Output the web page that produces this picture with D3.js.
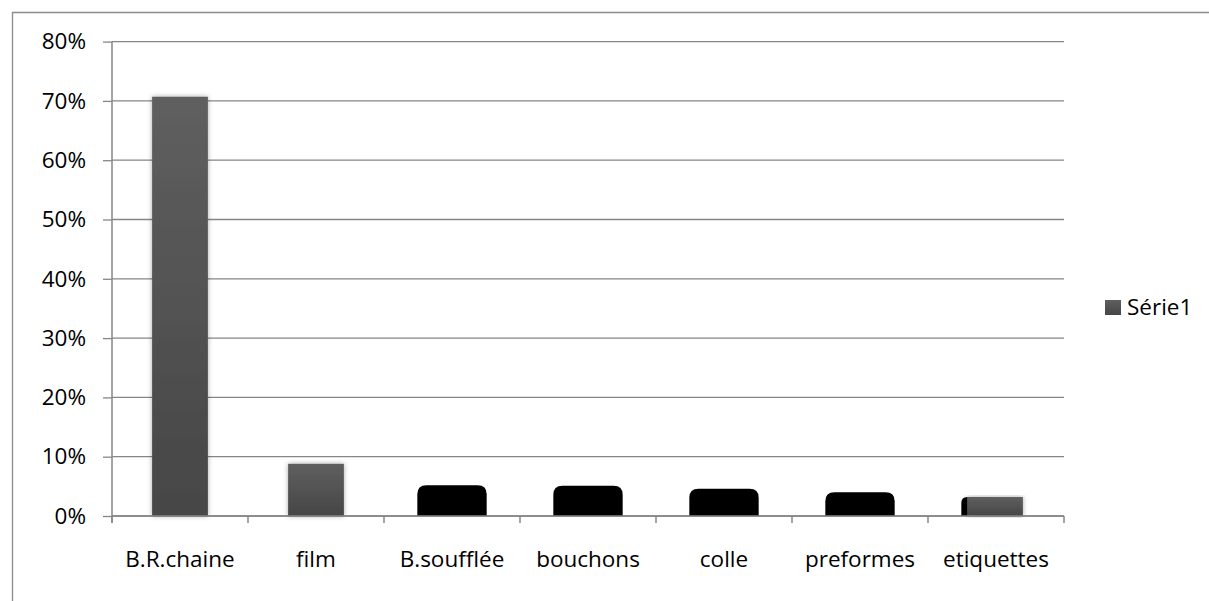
<!DOCTYPE html>
<html><head><meta charset="utf-8">
<script src="https://cdn.jsdelivr.net/npm/d3@7"></script>
<style>html,body{margin:0;padding:0;background:#fff;}svg{display:block;}</style>
</head><body>
<svg id="c" width="1209" height="601"></svg>
<script>
const categories = ["B.R.chaine","film","B.soufflée","bouchons","colle","preformes","etiquettes"];
const values = [0.707, 0.088, 0.052, 0.051, 0.046, 0.040, 0.032];
const overdrawn = ["B.soufflée","bouchons","colle","preformes","etiquettes"];
const yTicks = [0,0.1,0.2,0.3,0.4,0.5,0.6,0.7,0.8];
const seriesName = "Série1";

const svg = d3.select("#c");
const font = "'Open Sans', 'Liberation Sans', Arial, sans-serif";
const fs = 22.5;
const L = 112, R = 1064, T = 41.6, B = 516;
const x = d3.scaleBand().domain(categories).range([L, R]);
const y = d3.scaleLinear().domain([0, 0.8]).range([B, T]);

const defs = svg.append("defs");
const g = defs.append("linearGradient").attr("id","bg").attr("x1",0).attr("y1",0).attr("x2",0).attr("y2",1);
g.append("stop").attr("offset","0%").attr("stop-color","#5f5f5f");
g.append("stop").attr("offset","100%").attr("stop-color","#464646");
const f = defs.append("filter").attr("id","sh").attr("x","-30%").attr("y","-10%").attr("width","160%").attr("height","120%");
f.append("feDropShadow").attr("dx",0).attr("dy",0).attr("stdDeviation",2.5).attr("flood-color","#000").attr("flood-opacity",0.35);

// outer border
svg.append("path").attr("d","M12.5,601 V12.5 H1209").attr("fill","none").attr("stroke","#8a8a8a").attr("stroke-width",1.3);

// gridlines + y axis
const yAxis = d3.axisLeft(y).tickValues(yTicks).tickFormat(d3.format(".0%")).tickSize(9).tickPadding(17);
const ya = svg.append("g").attr("transform",`translate(${L},0)`).call(yAxis);
ya.select(".domain").remove();
ya.selectAll(".tick line").attr("stroke","#868686").attr("stroke-width",1.3);
ya.selectAll(".tick text").attr("font-family",font).attr("font-size",fs).attr("fill","#000");
svg.append("g").selectAll("line").data(yTicks).join("line")
  .attr("x1",L).attr("x2",R).attr("y1",d=>y(d)).attr("y2",d=>y(d))
  .attr("stroke","#868686").attr("stroke-width",1.3);
svg.append("line").attr("x1",L).attr("x2",L).attr("y1",T).attr("y2",B+7).attr("stroke","#868686").attr("stroke-width",1.5);

// black rounded bars
const bw = x.bandwidth()*0.51;
const data = categories.map((c,i)=>({c,v:values[i]}));
function roundTop(x0,w,y0,h,r){
  return `M${x0},${y0+h} V${y0+r} Q${x0},${y0} ${x0+r},${y0} H${x0+w-r} Q${x0+w},${y0} ${x0+w},${y0+r} V${y0+h} Z`;
}
svg.append("g").selectAll("path").data(data.filter(d=>overdrawn.includes(d.c))).join("path")
  .attr("d",d=>{
    const last = d.c === categories[categories.length-1];
    const cx = x(d.c)+x.bandwidth()/2;
    const w = last ? 30 : bw;
    const x0 = cx - bw/2;
    return roundTop(x0,w,y(d.v),B-y(d.v),last?6:9);
  }).attr("fill","#000");

// grey bars
const gw = x.bandwidth()*0.41;
const greyCats = [categories[0],categories[1],categories[6]];
svg.append("g").selectAll("rect").data(data.filter(d=>greyCats.includes(d.c))).join("rect")
  .attr("x",d=>x(d.c)+x.bandwidth()/2-gw/2+(d.c===categories[6]?-1:0))
  .attr("width",gw)
  .attr("y",d=>y(d.v)).attr("height",d=>B-y(d.v))
  .attr("fill","url(#bg)").attr("filter","url(#sh)");

// x axis
const xa = svg.append("g").attr("transform",`translate(0,${B})`);
xa.append("line").attr("x1",L).attr("x2",R).attr("stroke","#868686").attr("stroke-width",1.5);
const bounds = categories.map(c=>x(c)).concat([R]);
xa.selectAll("line.tk").data(bounds).join("line").attr("class","tk")
  .attr("x1",d=>d).attr("x2",d=>d).attr("y1",0).attr("y2",7).attr("stroke","#868686").attr("stroke-width",1.5);
xa.selectAll("text").data(categories).join("text")
  .attr("x",d=>x(d)+x.bandwidth()/2).attr("y",51).attr("text-anchor","middle")
  .attr("font-family",font).attr("font-size",fs).attr("fill","#000").text(d=>d);

// legend
const lg = svg.append("g").attr("transform","translate(1105,300)");
lg.append("rect").attr("width",16).attr("height",15).attr("fill","url(#bg)");
lg.append("text").attr("x",22).attr("y",15).attr("font-family",font).attr("font-size",fs).attr("fill","#000").text(seriesName);
</script>
</body></html>
